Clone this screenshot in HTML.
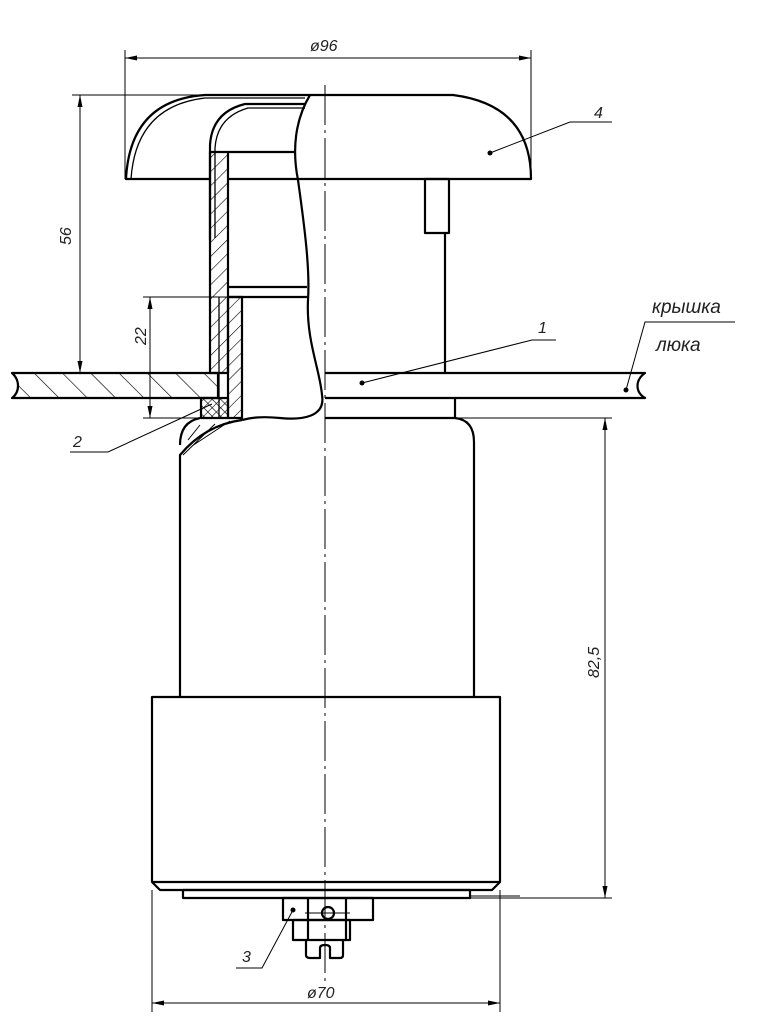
<!DOCTYPE html>
<html><head><meta charset="utf-8"><style>
html,body{margin:0;padding:0;background:#fff;}
svg{display:block;}
text{font-family:"Liberation Sans",sans-serif;font-style:italic;fill:#222;}
</style></head><body>
<svg width="762" height="1024" viewBox="0 0 762 1024" xmlns="http://www.w3.org/2000/svg">
<defs>
<pattern id="h" patternUnits="userSpaceOnUse" width="20" height="20" patternTransform="rotate(-45)">
<line x1="0" y1="0" x2="0" y2="20" stroke="#000" stroke-width="1.3"/>
</pattern>
<pattern id="h2" patternUnits="userSpaceOnUse" width="10" height="10" patternTransform="rotate(45)">
<line x1="0" y1="0" x2="0" y2="10" stroke="#000" stroke-width="1.2"/>
</pattern>
<pattern id="x" patternUnits="userSpaceOnUse" width="6" height="6" patternTransform="rotate(45)">
<line x1="0" y1="0" x2="0" y2="6" stroke="#000" stroke-width="1.2"/>
<line x1="0" y1="0" x2="6" y2="0" stroke="#000" stroke-width="1.2"/>
</pattern>
</defs>
<g fill="none" stroke="#000" stroke-width="1">
<line x1="325" y1="85" x2="325" y2="985" stroke-dasharray="40,5,3,5"/>
<line x1="125" y1="50" x2="125" y2="179"/>
<line x1="531" y1="50" x2="531" y2="179"/>
<line x1="125" y1="58" x2="531" y2="58"/>
<line x1="72" y1="95" x2="200" y2="95"/>
<line x1="80" y1="95" x2="80" y2="373"/>
<line x1="143" y1="297" x2="228" y2="297"/>
<line x1="143" y1="418" x2="201" y2="418"/>
<line x1="150" y1="297" x2="150" y2="418"/>
<line x1="455" y1="418" x2="612" y2="418"/>
<line x1="470" y1="898" x2="612" y2="898"/>
<line x1="605" y1="418" x2="605" y2="898"/>
<line x1="152" y1="890" x2="152" y2="1012"/>
<line x1="500" y1="890" x2="500" y2="1012"/>
<line x1="152" y1="1003" x2="500" y2="1003"/>
</g>
<g fill="#000">
<path d="M125,58 l12,-2.5 v5z"/><path d="M531,58 l-12,-2.5 v5z"/>
<path d="M80,95 l-2.5,12 h5z"/><path d="M80,373 l-2.5,-12 h5z"/>
<path d="M150,297 l-2.5,12 h5z"/><path d="M150,418 l-2.5,-12 h5z"/>
<path d="M605,418 l-2.5,12 h5z"/><path d="M605,898 l-2.5,-12 h5z"/>
<path d="M152,1003 l12,-2.5 v5z"/><path d="M500,1003 l-12,-2.5 v5z"/>
</g>
<g fill="none" stroke="#000" stroke-width="2.2" stroke-linejoin="round">
<path d="M310,95 H453 Q531,105 531,179 H228"/>
<path d="M210,179 H126 Q130,100 205,95 H310"/>
<path d="M131,179 Q136,106 205,98 H305" stroke-width="1.3"/>
<path d="M210,240 V145 Q212,112 245,104 H305" />
<path d="M215,238 V148 Q217,117 248,108 H305" stroke-width="1.3"/>
<path d="M228,152 H296"/>
<rect x="210" y="152" width="18" height="221" fill="url(#h2)"/>
<rect x="228" y="297" width="14" height="121" fill="url(#h2)"/>
<line x1="219" y1="297" x2="219" y2="418" stroke-width="1.3"/>
<path d="M228,287 H307 M228,297 H308"/>
<path d="M310,95 C295,120 292,150 298,180 C305,230 310,270 308,300 C306,340 320,370 322,395 C326,418 300,420 280,418 C260,416 250,418 242,420"/>
<rect x="425" y="179" width="24" height="54"/>
<line x1="445" y1="233" x2="445" y2="373"/>
<path d="M12,373 H218 V398 H12 C20,392 20,380 12,373Z" fill="url(#h)"/>
<path d="M325,373 H645 C635,380 635,392 645,398 H325"/>
<rect x="201" y="398" width="27" height="20" fill="url(#x)"/>
<line x1="455" y1="398" x2="455" y2="418"/>
<path d="M325,418 H455 Q474,420 474,442 V697"/>
<path d="M242,420 Q205,425 180,455 V697"/>
<path d="M200,418 Q180,422 180,445" />
<path d="M188,440 L200,425 M183,455 L215,424 M192,446 L230,421" stroke-width="1"/>
<path d="M152,697 H500 V882 L492,890 H160 L152,882 Z"/>
<line x1="152" y1="882" x2="500" y2="882"/>
<rect x="183" y="890" width="287" height="8"/>
<line x1="470" y1="896" x2="520" y2="896" stroke-width="1"/>
<rect x="283" y="898" width="90" height="22"/>
<rect x="293" y="920" width="57" height="20"/>
<path d="M306,940 V955 Q306,958 310,958 H320 V948 Q320,945 325,945 Q330,945 330,948 V958 H340 Q343,958 343,955 V940"/>
<line x1="308" y1="898" x2="308" y2="940"/>
<line x1="346" y1="898" x2="346" y2="940"/>
<circle cx="328" cy="913" r="6"/>
</g>
<line x1="305" y1="913" x2="350" y2="913" stroke="#000" stroke-width="1"/>
<g fill="none" stroke="#000" stroke-width="1">
<path d="M490,153 L570,122 H612"/>
<path d="M362,383 L532,340 H556"/>
<path d="M212,404 L108,452 H70"/>
<path d="M293,910 L262,968 H236"/>
<path d="M626,390 L645,322 H735"/>
</g>
<g fill="#000">
<circle cx="490" cy="153" r="2.5"/><circle cx="362" cy="383" r="2.5"/>
<circle cx="293" cy="910" r="2.5"/><circle cx="626" cy="390" r="2.5"/>
</g>
<g font-size="16">
<text x="310" y="51">ø96</text>
<text x="594" y="118">4</text>
<text x="538" y="333">1</text>
<text x="73" y="447">2</text>
<text x="242" y="962">3</text>
<text x="307" y="998">ø70</text>
<text x="652" y="313" font-size="19">крышка</text>
<text x="656" y="351" font-size="19">люка</text>
<text transform="translate(71,245) rotate(-90)">56</text>
<text transform="translate(146,345) rotate(-90)">22</text>
<text transform="translate(599,678) rotate(-90)">82,5</text>
</g>
</svg>
</body></html>
